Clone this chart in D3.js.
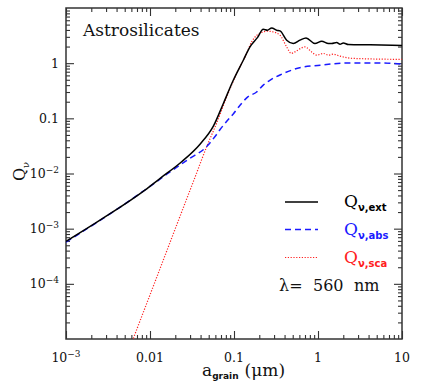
<!DOCTYPE html>
<html>
<head>
<meta charset="utf-8">
<script src="https://cdn.jsdelivr.net/npm/d3@7"></script>
<style>
body{margin:0;background:#fff;}
text{font-family:"DejaVu Serif",serif;fill:#111;}
.sub{font-family:"DejaVu Sans",sans-serif;font-weight:bold;}
</style>
</head>
<body>
<svg id="chart" width="439" height="386"></svg>
<script>
// grain radius (micron) and efficiencies
var extA=[0.001,0.00254,0.0087,0.0131,0.024,0.0394,0.0568,0.0747,0.098,0.129,0.155,0.19,0.223,0.25,0.281,0.322,0.353,0.424,0.508,0.61,0.72,0.92,1.107,1.33,1.455,1.67,1.83,2.0,2.3,4.16,10];
var extQ=[5.9e-4,1.43e-3,5.0e-3,8.1e-3,0.0165,0.034,0.072,0.186,0.49,1.13,1.97,2.9,4.13,3.96,4.36,3.96,3.85,2.61,2.27,2.61,2.87,2.27,2.5,2.27,2.27,2.37,2.21,2.33,2.18,2.15,2.09];

var absA=[0.001,0.0115,0.0158,0.030,0.045,0.062,0.068,0.0896,0.098,0.118,0.146,0.186,0.223,0.267,0.353,0.557,1.06,2.4,5.0,10];
var absQ=[5.7e-4,6.8e-3,0.0097,0.019,0.0286,0.051,0.062,0.103,0.12,0.173,0.245,0.30,0.40,0.49,0.61,0.80,0.92,1.01,1.01,0.96];

var scaA=[0.006,0.0063,0.01,0.02,0.030,0.0329,0.049,0.062,0.0819,0.1076,0.1415,0.162,0.223,0.25,0.29,0.353,0.424,0.48,0.53,0.70,0.84,0.96,1.157,1.33,1.52,1.83,2.63,10];
var scaQ=[8.2e-6,1.0e-5,6.3e-5,1.0e-3,5.0e-3,7.2e-3,0.035,0.081,0.245,0.65,1.5,2.43,3.7,3.8,3.7,3.21,1.97,1.5,1.6,1.97,1.6,1.4,1.5,1.4,1.456,1.34,1.22,1.17];

var xMajor=[0.001,0.01,0.1,1,10];
var xLabels=[["10","−3"],["0.01",""],["0.1",""],["1",""],["10",""]];
var yMajor=[1e-4,1e-3,1e-2,0.1,1];
var yLabels=[["10","−4"],["10","−3"],["10","−2"],["0.1",""],["1",""]];

var svg=d3.select("#chart");
var mLeft=66, mTop=8, width=336, height=331;
var g=svg.append("g").attr("transform","translate("+mLeft+","+mTop+")");

var x=d3.scaleLog().domain([0.001,10]).range([0,width]);
var y=d3.scaleLog().domain([1e-5,10]).range([height,0]);

function minors(lo,hi){
    var out=[];
    for(var e=lo;e<hi;e++){
        for(var k=2;k<=9;k++) out.push(k*Math.pow(10,e));
    }
    return out;
}
var xMinor=minors(-3,1), yMinor=minors(-5,1);

g.append("defs").append("clipPath").attr("id","clip")
  .append("rect").attr("width",width).attr("height",height);

function drawAxis(axis,tr){
    var a=g.append("g").attr("class","axis").attr("transform",tr).call(axis);
    a.select(".domain").remove();
    a.selectAll("line").attr("stroke","#333").attr("stroke-width",1.1);
}
drawAxis(d3.axisBottom(x).tickValues(xMajor).tickSize(-8).tickFormat(""),"translate(0,"+height+")");
drawAxis(d3.axisBottom(x).tickValues(xMinor).tickSize(-4).tickFormat(""),"translate(0,"+height+")");
drawAxis(d3.axisTop(x).tickValues(xMajor).tickSize(-8).tickFormat(""),"translate(0,0)");
drawAxis(d3.axisTop(x).tickValues(xMinor).tickSize(-4).tickFormat(""),"translate(0,0)");
drawAxis(d3.axisLeft(y).tickValues(yMajor).tickSize(-8).tickFormat(""),"translate(0,0)");
drawAxis(d3.axisLeft(y).tickValues(yMinor).tickSize(-4).tickFormat(""),"translate(0,0)");
drawAxis(d3.axisRight(y).tickValues(yMajor).tickSize(-8).tickFormat(""),"translate("+width+",0)");
drawAxis(d3.axisRight(y).tickValues(yMinor).tickSize(-4).tickFormat(""),"translate("+width+",0)");

g.append("rect").attr("width",width).attr("height",height)
  .attr("fill","none").attr("stroke","#333").attr("stroke-width",1.5);

// tick labels
xMajor.forEach(function(v,i){
    var t=g.append("text").attr("x",x(v)).attr("y",height+23)
      .attr("text-anchor","middle").style("font-size","12.5px").text(xLabels[i][0]);
    if(xLabels[i][1]) t.append("tspan").attr("dy",-5).style("font-size","9px").text(xLabels[i][1]);
});
yMajor.forEach(function(v,i){
    var t=g.append("text").attr("x",-7).attr("y",y(v)+4.5)
      .attr("text-anchor","end").style("font-size","12.5px").text(yLabels[i][0]);
    if(yLabels[i][1]) t.append("tspan").attr("dy",-5).style("font-size","9px").text(yLabels[i][1]);
});

var line=d3.line().curve(d3.curveMonotoneX)
  .x(function(d){return x(d[0]);})
  .y(function(d){return y(d[1]);});
function pairs(a,q){return a.map(function(v,i){return [v,q[i]];});}

var curves=g.append("g").attr("clip-path","url(#clip)");
curves.append("path").datum(pairs(scaA,scaQ)).attr("d",line)
  .attr("fill","none").attr("stroke","#ff2020").attr("stroke-width",1.2).attr("stroke-dasharray","1.2,1.6");
curves.append("path").datum(pairs(absA,absQ)).attr("d",line)
  .attr("fill","none").attr("stroke","#1a1aff").attr("stroke-width",1.5).attr("stroke-dasharray","6,4");
curves.append("path").datum(pairs(extA,extQ)).attr("d",line)
  .attr("fill","none").attr("stroke","#000").attr("stroke-width",1.5);

// title
svg.append("text").attr("x",83).attr("y",36).style("font-size","17px").text("Astrosilicates");

// legend
var leg=[["ext","#000",null,1.5,202],["abs","#1a1aff","6,4",1.5,229.5],["sca","#ff2020","1.2,1.6",1.2,257.5]];
leg.forEach(function(l){
    svg.append("line").attr("x1",285).attr("x2",318).attr("y1",l[4]).attr("y2",l[4])
      .attr("stroke",l[1]).attr("stroke-width",l[3]).attr("stroke-dasharray",l[2]);
    var t=svg.append("text").attr("x",344).attr("y",l[4]+5).style("font-size","17px").style("fill",l[1]).text("Q");
    t.append("tspan").attr("class","sub").attr("dy",4).style("font-size","10px").style("fill",l[1]).text("ν,"+l[0]);
});
svg.append("text").attr("x",279).attr("y",291).style("font-size","16px").text("λ=");
svg.append("text").attr("x",313).attr("y",291).style("font-size","16px").text("560");
svg.append("text").attr("x",354).attr("y",291).style("font-size","16px").text("nm");

// axis labels
var yl=svg.append("text").attr("transform","translate(25,181) rotate(-90)").style("font-size","16px").text("Q");
yl.append("tspan").attr("dy",4).style("font-size","10px").text("ν");

var xl=svg.append("text").attr("x",202).attr("y",376).style("font-size","17px").text("a");
xl.append("tspan").attr("class","sub").attr("dy",3).style("font-size","9px").text("grain");
xl.append("tspan").attr("dy",-3).attr("dx",6).style("font-size","17px").text("(μm)");
</script>
</body>
</html>
